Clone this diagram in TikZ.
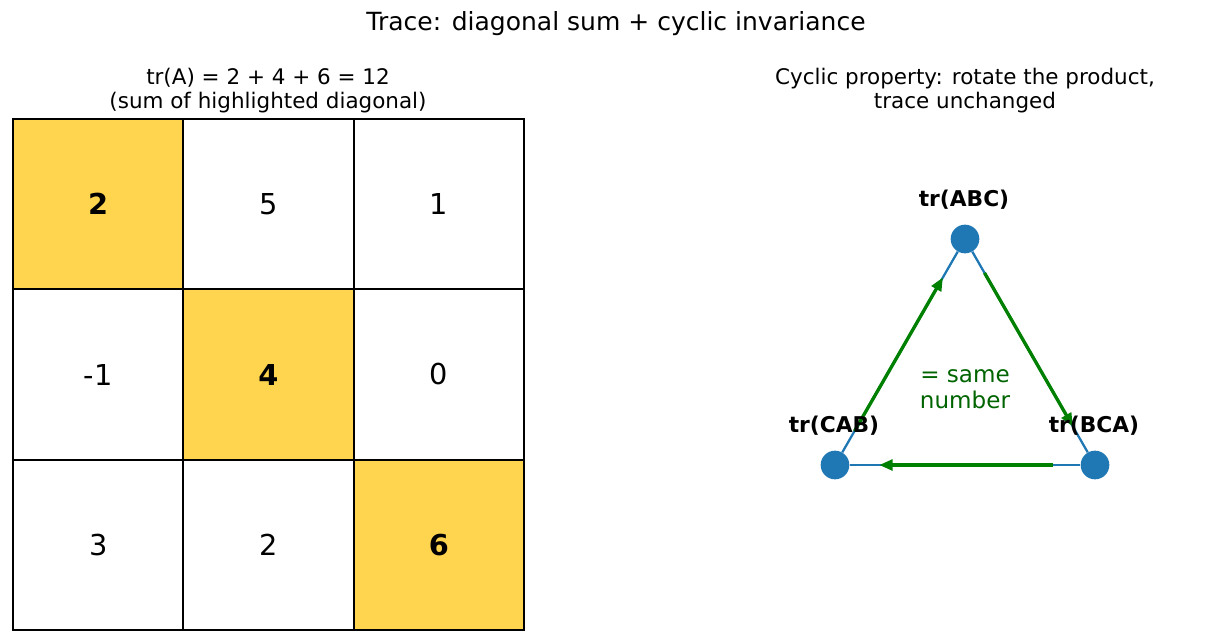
\documentclass[tikz,border=0pt]{standalone}
\usepackage{fontspec}
\setmainfont{DejaVu Sans}
\usetikzlibrary{arrows.meta,calc}
\definecolor{hl}{HTML}{FFD54F}
\definecolor{mplblue}{HTML}{1F77B4}
\definecolor{mplgreen}{HTML}{008000}
\definecolor{txtgreen}{HTML}{006400}
\begin{document}
\begin{tikzpicture}[x=0.75pt,y=-0.75pt,
  cell/.style={draw=black,line width=1.3pt,minimum size=127.75pt,inner sep=0pt,font=\fontsize{21.6pt}{26pt}\selectfont},
  diag/.style={cell,fill=hl,font=\fontsize{21.6pt}{26pt}\selectfont\bfseries},
  dot/.style={circle,fill=mplblue,minimum size=21.5pt,inner sep=0pt},
  blueline/.style={draw=mplblue,line width=1.7pt},
  garrow/.style={draw=mplgreen,line width=2.5pt,-{Triangle[length=10pt,width=8pt]}},
  lab/.style={font=\fontsize{16.3pt}{19pt}\selectfont\bfseries},
  subtitle/.style={align=center,font=\fontsize{16.1pt}{18pt}\selectfont}]
\useasboundingbox (0,0) rectangle (1217,643);
\node[font=\fontsize{18.75pt}{22pt}\selectfont] (title) at (616,24) {Trace: diagonal sum + cyclic invariance};
\node[subtitle] (lt) at (268,90.5) {tr(A) = 2 + 4 + 6 = 12\\(sum of highlighted diagonal)};
\node[subtitle] (rt) at (965,90.5) {Cyclic property: rotate the product,\\trace unchanged};
% matrix
\node[diag] (c11) at (98.2,204.2) {2};
\node[cell] (c12) at (268.5,204.2) {5};
\node[cell] (c13) at (438.8,204.2) {1};
\node[cell] (c21) at (98.2,374.5) {-1};
\node[diag] (c22) at (268.5,374.5) {4};
\node[cell] (c23) at (438.8,374.5) {0};
\node[cell] (c31) at (98.2,544.8) {3};
\node[cell] (c32) at (268.5,544.8) {2};
\node[diag] (c33) at (438.8,544.8) {6};
% triangle
\node[dot] (ABC) at (965,239) {};
\node[dot] (BCA) at (1095,465) {};
\node[dot] (CAB) at (835,465) {};
\draw[blueline] (ABC) -- (BCA);
\draw[blueline] (BCA) -- (CAB);
\draw[blueline] (CAB) -- (ABC);
\draw[garrow] ($(CAB)!0.15!(ABC)$) -- ($(CAB)!0.83!(ABC)$);
\draw[garrow] ($(ABC)!0.15!(BCA)$) -- ($(ABC)!0.83!(BCA)$);
\draw[garrow] ($(BCA)!0.16!(CAB)$) -- ($(BCA)!0.83!(CAB)$);
\node[lab] (lABC) at (964,200) {tr(ABC)};
\node[lab] (lCAB) at (834,426) {tr(CAB)};
\node[lab] (lBCA) at (1094,426) {tr(BCA)};
\node[align=center,text=txtgreen,font=\fontsize{17.3pt}{19.5pt}\selectfont] (same) at (965,389) {= same\\number};
\end{tikzpicture}
\end{document}
